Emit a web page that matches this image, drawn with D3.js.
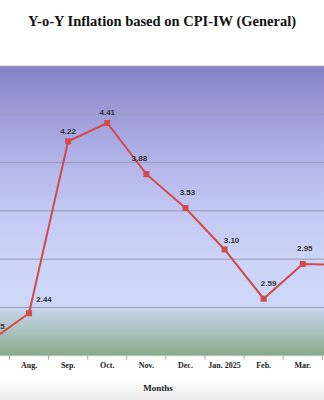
<!DOCTYPE html>
<html>
<head>
<meta charset="utf-8">
<script src="https://cdn.jsdelivr.net/npm/d3@7.9.0/dist/d3.min.js"></script>
<style>
  html, body { margin: 0; padding: 0; background: #fff; }
  svg { display: block; }
</style>
</head>
<body>
<svg id="chart" width="324" height="400"></svg>
<script>
// data
const months = ['Jul.', 'Aug.', 'Sep.', 'Oct.', 'Nov.', 'Dec.', 'Jan. 2025', 'Feb.', 'Mar.', 'Apr.'];
const inflation = [2.15, 2.44, 4.22, 4.41, 3.88, 3.53, 3.10, 2.59, 2.95, 2.94];
const gridValues = [2.5, 3.0, 3.5, 4.0, 4.5, 5.0];

// label nudges (dx, dy from the point), like the original placement
const labelNudge = [[7, -15], [15, -14], [0, -10], [0, -11], [-7, -16], [2, -16], [7, -9], [5, -16], [2, -16], [2, -16]];

const W = 324, H = 400;
const svg = d3.select('#chart');

// the plot runs past both edges of the frame
const plot = { left: -29.6, right: 361.4, top: 66, bottom: 355.7 };

const x = d3.scaleBand().domain(months).range([plot.left, plot.right]);
const y = d3.scaleLinear().domain([2, 5]).range([plot.bottom, plot.top]);

const defs = svg.append('defs');
const bg = defs.append('linearGradient')
    .attr('id', 'bg')
    .attr('gradientUnits', 'userSpaceOnUse')
    .attr('x1', 0).attr('x2', 0)
    .attr('y1', y(5)).attr('y2', y(2));
const stops = [
  [0, '#8381c4'], [1 / 6, '#9e9ed9'], [1 / 3, '#b3b5e9'], [0.5, '#c3c8f3'],
  [2 / 3, '#ccd4f8'], [0.833, '#cdd8f7'], [0.836, '#c8d6f0'], [0.92, '#a9c1bb'], [1, '#87a989']
];
stops.forEach(([o, c]) => bg.append('stop').attr('offset', o).attr('stop-color', c));

const foot = defs.append('linearGradient')
    .attr('id', 'foot').attr('x1', 0).attr('x2', 0).attr('y1', 0).attr('y2', 1);
foot.append('stop').attr('offset', 0).attr('stop-color', '#ffffff');
foot.append('stop').attr('offset', 1).attr('stop-color', '#e9e9e9');

svg.append('rect')
    .attr('x', 0).attr('y', 380).attr('width', W).attr('height', H - 380)
    .attr('fill', 'url(#foot)');

// plot background
svg.append('rect')
    .attr('x', plot.left).attr('y', plot.top)
    .attr('width', plot.right - plot.left).attr('height', plot.bottom - plot.top)
    .attr('fill', 'url(#bg)');

// gridlines
svg.append('g').selectAll('line')
  .data(gridValues)
  .join('line')
    .attr('x1', plot.left).attr('x2', plot.right)
    .attr('y1', d => y(d)).attr('y2', d => y(d))
    .attr('stroke', d => d === 5 ? '#b4b4c4' : '#9898b0')
    .attr('stroke-width', 1);

// x axis
const xAxis = svg.append('g')
    .attr('transform', `translate(0,${plot.bottom})`);
xAxis.append('line')
    .attr('x1', plot.left).attr('x2', plot.right)
    .attr('stroke', '#b9c4b9');
xAxis.selectAll('.tick')
  .data(months.slice(1))
  .join('line')
    .attr('x1', d => x(d)).attr('x2', d => x(d))
    .attr('y1', 0).attr('y2', 4)
    .attr('stroke', '#a8a8a8');
xAxis.selectAll('text')
  .data(months)
  .join('text')
    .attr('x', d => x(d) + x.bandwidth() / 2)
    .attr('y', 12.5)
    .attr('text-anchor', 'middle')
    .attr('font-family', '"Liberation Serif", "Times New Roman", serif')
    .attr('font-weight', 'bold')
    .attr('font-size', 8)
    .attr('fill', '#222')
    .text(d => d);

// line + markers
const cx = (d, i) => x(months[i]) + x.bandwidth() / 2;
const line = d3.line().x(cx).y(d => y(d));

svg.append('path')
    .datum(inflation)
    .attr('d', line)
    .attr('fill', 'none')
    .attr('stroke', '#d4494a')
    .attr('stroke-width', 2);

svg.append('g').selectAll('rect')
  .data(inflation)
  .join('rect')
    .attr('x', (d, i) => cx(d, i) - 3)
    .attr('y', d => y(d) - 3)
    .attr('width', 6).attr('height', 6)
    .attr('fill', '#d4494a');

svg.append('g').selectAll('text')
  .data(inflation)
  .join('text')
    .attr('x', (d, i) => cx(d, i) + labelNudge[i][0])
    .attr('y', (d, i) => y(d) + labelNudge[i][1])
    .attr('dy', '0.35em')
    .attr('text-anchor', 'middle')
    .attr('font-family', '"Liberation Sans", Arial, sans-serif')
    .attr('font-weight', 'bold')
    .attr('font-size', 8)
    .attr('fill', '#333')
    .text(d => d.toFixed(2));

// titles
svg.append('text')
    .attr('x', W / 2).attr('y', 26)
    .attr('text-anchor', 'middle')
    .attr('font-family', '"Liberation Serif", "Times New Roman", serif')
    .attr('font-weight', 'bold')
    .attr('font-size', 14.5)
    .attr('fill', '#111')
    .text('Y-o-Y Inflation based on CPI-IW (General)');

svg.append('text')
    .attr('x', W / 2 - 4).attr('y', 391)
    .attr('text-anchor', 'middle')
    .attr('font-family', '"Liberation Serif", "Times New Roman", serif')
    .attr('font-weight', 'bold')
    .attr('font-size', 9)
    .attr('fill', '#222')
    .text('Months');
</script>
</body>
</html>
